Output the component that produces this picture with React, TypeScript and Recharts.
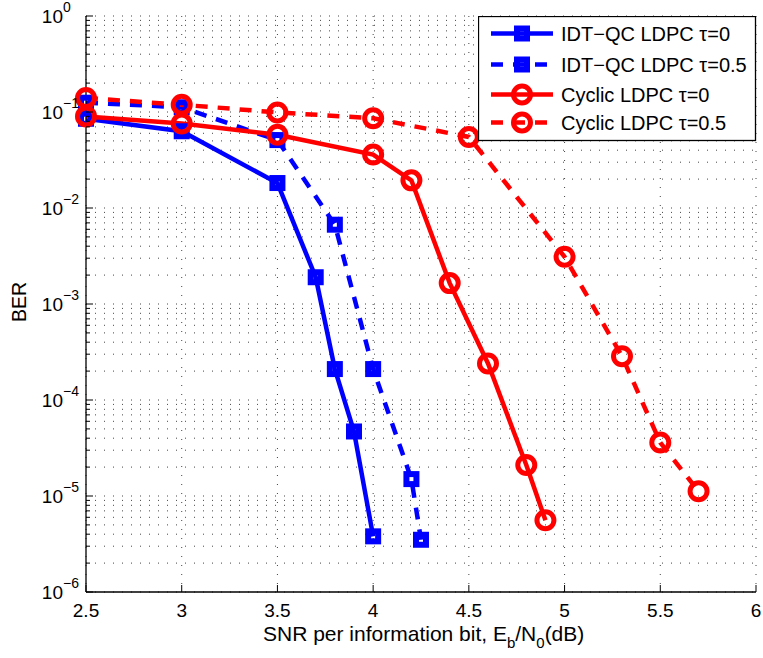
import React from 'react';
import { LineChart, Line, XAxis, YAxis, CartesianGrid, Legend } from 'recharts';

// ---------- data ----------
const snrIdtTau0 = [2.5, 3, 3.5, 3.7, 3.8, 3.9, 4.0];
const berIdtTau0 = [0.085, 0.063, 0.0182, 0.0019, 2.1e-4, 4.7e-5, 3.8e-6];

const snrIdtTau05 = [2.5, 3, 3.5, 3.8, 4.0, 4.2, 4.25];
const berIdtTau05 = [0.125, 0.112, 0.051, 0.0067, 2.1e-4, 1.5e-5, 3.5e-6];

const snrCycTau0 = [2.5, 3, 3.5, 4.0, 4.2, 4.4, 4.6, 4.8, 4.9];
const berCycTau0 = [0.09, 0.076, 0.058, 0.036, 0.0194, 0.00165, 2.4e-4, 2.1e-5, 5.6e-6];

const snrCycTau05 = [2.5, 3, 3.5, 4.0, 4.5, 5.0, 5.3, 5.5, 5.7];
const berCycTau05 = [0.14, 0.119, 0.099, 0.086, 0.055, 0.0031, 2.85e-4, 3.6e-5, 1.12e-5];

const seriesNames = ['IDT\u2212QC LDPC \u03c4=0', 'IDT\u2212QC LDPC \u03c4=0.5', 'Cyclic LDPC \u03c4=0', 'Cyclic LDPC \u03c4=0.5'];

const xTicks = [2.5, 3, 3.5, 4, 4.5, 5, 5.5, 6];
const xTickLabels = ['2.5', '3', '3.5', '4', '4.5', '5', '5.5', '6'];
const yDecades = [1e-6, 1e-5, 1e-4, 1e-3, 1e-2, 1e-1, 1];
const yDecadeExponents = ['\u22126', '\u22125', '\u22124', '\u22123', '\u22122', '\u22121', '0'];
const yMinorMultipliers = [2, 3, 4, 5, 6, 7, 8, 9];

// ---------- derived tables ----------
const zip = (xs: number[], ys: number[]) => xs.map((x, i) => ({ x, y: ys[i] }));
const dataIdt0 = zip(snrIdtTau0, berIdtTau0);
const dataIdt05 = zip(snrIdtTau05, berIdtTau05);
const dataCyc0 = zip(snrCycTau0, berCycTau0);
const dataCyc05 = zip(snrCycTau05, berCycTau05);

const yTicks: number[] = [];
yDecades.forEach((d, i) => {
  yTicks.push(d);
  if (i < yDecades.length - 1) yMinorMultipliers.forEach((m) => yTicks.push(d * m));
});
yTicks.sort((a, b) => a - b);

// ---------- layout / style ----------
const W = 763;
const H = 658;
const PL = 86;
const PR = 756;
const PT = 16;
const PB = 592;
const FONT = '"Liberation Sans", Arial, Helvetica, sans-serif';
const BLUE = '#0000ff';
const RED = '#ff0000';
const LW = 4.5;
const DASH = '12 10';

const decadeIndex = (v: number) => yDecades.findIndex((d) => Math.abs(d - v) / d < 1e-6);

const LeftTick = (props: any) => {
  const { y, payload } = props;
  const idx = decadeIndex(payload.value);
  const major = idx >= 0;
  return (
    <g>
      <line x1={PL} x2={PL + (major ? 7 : 4)} y1={y} y2={y} stroke="#000" strokeWidth={1} />
      {major && (
        <text x={63} y={y + 7} textAnchor="end" fontSize={19} fontFamily={FONT} fill="#000">
          10
        </text>
      )}
      {major && (
        <text x={63} y={y - 4} textAnchor="start" fontSize={14} fontFamily={FONT} fill="#000">
          {yDecadeExponents[idx]}
        </text>
      )}
    </g>
  );
};

const RightTick = (props: any) => {
  const { y, payload } = props;
  const major = decadeIndex(payload.value) >= 0;
  return <line x1={PR} x2={PR - (major ? 7 : 4)} y1={y} y2={y} stroke="#000" strokeWidth={1} />;
};

const BottomTick = (props: any) => {
  const { x, payload } = props;
  const i = xTicks.indexOf(payload.value);
  return (
    <g>
      <line x1={x} x2={x} y1={PB} y2={PB - 7} stroke="#000" strokeWidth={1} />
      <text x={x} y={617} textAnchor="middle" fontSize={19} fontFamily={FONT} fill="#000">
        {xTickLabels[i]}
      </text>
    </g>
  );
};

const TopTick = (props: any) => {
  const { x } = props;
  return <line x1={x} x2={x} y1={PT} y2={PT + 7} stroke="#000" strokeWidth={1} />;
};

const squareDot = (color: string) => (props: any) => {
  const { cx, cy, index } = props;
  if (cx == null || cy == null) return <g key={`sq-${index}`} />;
  return (
    <rect key={`sq-${index}`} x={cx - 5} y={cy - 5} width={10} height={10} fill="none" stroke={color} strokeWidth={6} strokeDasharray="none" />
  );
};

const circleDot = (color: string) => (props: any) => {
  const { cx, cy, index } = props;
  if (cx == null || cy == null) return <g key={`ci-${index}`} />;
  return <circle key={`ci-${index}`} cx={cx} cy={cy} r={8.5} fill="none" stroke={color} strokeWidth={5} strokeDasharray="none" />;
};

const legendStyles = [
  { color: BLUE, dash: undefined, marker: 'square' },
  { color: BLUE, dash: DASH, marker: 'square' },
  { color: RED, dash: undefined, marker: 'circle' },
  { color: RED, dash: DASH, marker: 'circle' },
];
const legendRowsY = [17.5, 48.5, 78.5, 106.5];

const LegendBox = () => (
  <svg width={279} height={126} style={{ display: 'block' }}>
    <rect x={0.5} y={0.5} width={277} height={124} fill="#fff" stroke="#000" strokeWidth={1.3} />
    {seriesNames.map((name, i) => {
      const s = legendStyles[i];
      const cy = legendRowsY[i];
      return (
        <g key={name}>
          <line x1={13} x2={75} y1={cy} y2={cy} stroke={s.color} strokeWidth={LW} strokeDasharray={s.dash} />
          {s.marker === 'square' ? (
            <rect x={44 - 5} y={cy - 5} width={10} height={10} fill="none" stroke={s.color} strokeWidth={6} />
          ) : (
            <circle cx={44} cy={cy} r={8.5} fill="none" stroke={s.color} strokeWidth={5} />
          )}
          <text x={83} y={cy} dominantBaseline="central" fontSize={20} fontFamily={FONT} fill="#000">
            {name}
          </text>
        </g>
      );
    })}
  </svg>
);

const YLabel = () => (
  <text x={18.5} y={302} transform="rotate(-90 18.5 302)" textAnchor="middle" dominantBaseline="central" fontSize={19.5} fontFamily={FONT} fill="#000">
    BER
  </text>
);

const XLabel = () => (
  <text x={263} y={641} textAnchor="start" fontSize={21} fontFamily={FONT} fill="#000">
    SNR per information bit, E
    <tspan dy={7} fontSize={15}>b</tspan>
    <tspan dy={-7} fontSize={21}>/N</tspan>
    <tspan dy={7} fontSize={15}>0</tspan>
    <tspan dy={-7} fontSize={21}>(dB)</tspan>
  </text>
);

export default function App() {
  return (
    <div style={{ position: 'absolute', left: 0, top: 0, width: W, height: H, background: '#fff' }}>
      <LineChart width={W} height={H} margin={{ top: PT, right: W - PR, bottom: 0, left: 0 }} style={{ fontFamily: FONT }}>
        <CartesianGrid stroke="#444" strokeDasharray="1 8" strokeWidth={1} />
        <XAxis
          xAxisId={0}
          type="number"
          dataKey="x"
          domain={[2.5, 6]}
          ticks={xTicks}
          interval={0}
          height={H - PB}
          tick={<BottomTick />}
          tickLine={false}
          axisLine={{ stroke: '#000', strokeWidth: 1.3 }}
          label={{ content: () => <XLabel /> }}
        />
        <XAxis
          xAxisId="top"
          orientation="top"
          type="number"
          dataKey="x"
          domain={[2.5, 6]}
          ticks={xTicks}
          interval={0}
          height={0}
          tick={<TopTick />}
          tickLine={false}
          axisLine={{ stroke: '#000', strokeWidth: 1.3 }}
        />
        <YAxis
          yAxisId={0}
          scale="log"
          type="number"
          domain={[1e-6, 1]}
          ticks={yTicks}
          interval={0}
          width={PL}
          tick={<LeftTick />}
          tickLine={false}
          axisLine={{ stroke: '#000', strokeWidth: 1.3 }}
          label={{ content: () => <YLabel /> }}
        />
        <YAxis
          yAxisId="right"
          orientation="right"
          scale="log"
          type="number"
          domain={[1e-6, 1]}
          ticks={yTicks}
          interval={0}
          width={0}
          tick={<RightTick />}
          tickLine={false}
          axisLine={{ stroke: '#000', strokeWidth: 1.3 }}
        />
        <Legend
          layout="horizontal"
          verticalAlign="middle"
          align="center"
          content={() => <LegendBox />}
          wrapperStyle={{ position: 'absolute', left: 478, top: PT, width: 279, height: 126 }}
        />
        <Line data={dataIdt0} dataKey="y" name={seriesNames[0]} stroke={BLUE} strokeWidth={LW} dot={squareDot(BLUE)} activeDot={false} isAnimationActive={false} />
        <Line data={dataIdt05} dataKey="y" name={seriesNames[1]} stroke={BLUE} strokeWidth={LW} strokeDasharray={DASH} dot={squareDot(BLUE)} activeDot={false} isAnimationActive={false} />
        <Line data={dataCyc0} dataKey="y" name={seriesNames[2]} stroke={RED} strokeWidth={LW} dot={circleDot(RED)} activeDot={false} isAnimationActive={false} />
        <Line data={dataCyc05} dataKey="y" name={seriesNames[3]} stroke={RED} strokeWidth={LW} strokeDasharray={DASH} dot={circleDot(RED)} activeDot={false} isAnimationActive={false} />
      </LineChart>
    </div>
  );
}
